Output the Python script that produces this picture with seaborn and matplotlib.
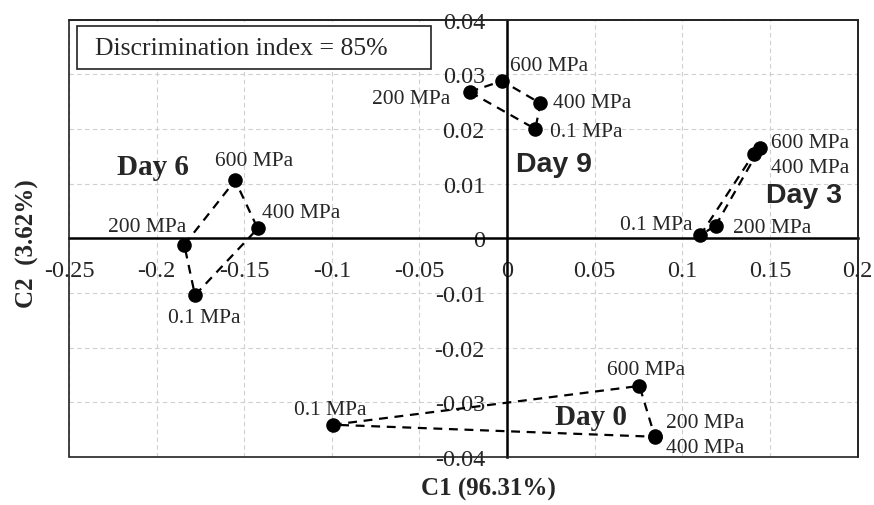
import pandas as pd
import matplotlib.pyplot as plt
import seaborn as sns
from matplotlib.patches import Rectangle

# PCA scores
pressures = ['0.1 MPa', '200 MPa', '400 MPa', '600 MPa']
day0_c1 = [-0.0995, 0.0842, 0.0845, 0.0755]
day0_c2 = [-0.0341, -0.0362, -0.0363, -0.0270]
day3_c1 = [0.1103, 0.1189, 0.1408, 0.1442]
day3_c2 = [0.0006, 0.0023, 0.0155, 0.0165]
day6_c1 = [-0.1781, -0.1842, -0.1423, -0.1552]
day6_c2 = [-0.0104, -0.0012, 0.0018, 0.0106]
day9_c1 = [0.0161, -0.0214, 0.0190, -0.0029]
day9_c2 = [0.0200, 0.0268, 0.0247, 0.0288]

x_ticks = [-0.25, -0.2, -0.15, -0.1, -0.05, 0, 0.05, 0.1, 0.15, 0.2]
x_tick_labels = ['-0.25', '-0.2', '-0.15', '-0.1', '-0.05', '0', '0.05', '0.1', '0.15', '0.2']
y_ticks = [-0.04, -0.03, -0.02, -0.01, 0, 0.01, 0.02, 0.03, 0.04]
y_tick_labels = ['-0.04', '-0.03', '-0.02', '-0.01', '0', '0.01', '0.02', '0.03', '0.04']

frames = []
for day, c1, c2 in [('Day 0', day0_c1, day0_c2), ('Day 3', day3_c1, day3_c2),
                    ('Day 6', day6_c1, day6_c2), ('Day 9', day9_c1, day9_c2)]:
    frames.append(pd.DataFrame({'day': day, 'pressure': pressures, 'c1': c1, 'c2': c2}))
scores = pd.concat(frames, ignore_index=True)

# closed outline around each day's points
outline = {
    'Day 0': ['0.1 MPa', '600 MPa', '200 MPa', '400 MPa', '0.1 MPa'],
    'Day 3': ['200 MPa', '600 MPa', '400 MPa', '0.1 MPa', '200 MPa'],
    'Day 6': ['200 MPa', '600 MPa', '400 MPa', '0.1 MPa', '200 MPa'],
    'Day 9': ['200 MPa', '600 MPa', '400 MPa', '0.1 MPa', '200 MPa'],
}
paths = []
for day, grp in scores.groupby('day'):
    paths.append(grp.set_index('pressure').loc[outline[day]].reset_index())
paths = pd.concat(paths, ignore_index=True)

sns.set_style('white')
plt.rcParams['font.family'] = ['Liberation Serif', 'DejaVu Serif']
plt.rcParams['axes.unicode_minus'] = False

fig = plt.figure(figsize=(8.74, 5.06), dpi=100)
ax = fig.add_axes([0.0789, 0.0949, 0.9024, 0.8642])

sns.lineplot(data=paths, x='c1', y='c2', units='day', estimator=None, sort=False,
             color='black', lw=1.6, linestyle=(0, (4, 3)), ax=ax, zorder=3)
sns.scatterplot(data=scores, x='c1', y='c2', color='black', s=110, edgecolor='black',
                linewidth=0, ax=ax, zorder=4)

ax.set_xlim(-0.25, 0.2)
ax.set_ylim(-0.04, 0.04)
ax.set_xticks(x_ticks)
ax.set_xticklabels(x_tick_labels)
ax.set_yticks(y_ticks)
ax.set_yticklabels(y_tick_labels)
ax.set_xlabel('')
ax.set_ylabel('')

ax.grid(True, color='#cfcfcf', linestyle=(0, (4, 3)), linewidth=0.8)
ax.set_axisbelow(True)

# axes through the origin, box around the plot
ax.spines['left'].set_position(('data', 0))
ax.spines['bottom'].set_position(('data', 0))
for s in ['left', 'bottom']:
    ax.spines[s].set_linewidth(1.8)
    ax.spines[s].set_color('black')
    ax.spines[s].set_zorder(2.5)
for s in ['top', 'right']:
    ax.spines[s].set_linewidth(1.2)
    ax.spines[s].set_color('#222222')
ax.add_patch(Rectangle((0, 0), 1, 1, transform=ax.transAxes, fill=False,
                       lw=1.2, edgecolor='#222222', clip_on=False, zorder=5))

ax.tick_params(axis='x', direction='out', length=6.5, width=1.2, pad=9,
               labelsize=17.5, color='black')
ax.tick_params(axis='y', direction='out', length=5, width=1.2, pad=11,
               labelsize=17.5, color='black')

# point labels: (dx, dy) in points, horizontal alignment
label_pos = {
    ('Day 9', '600 MPa'): (6, 8, 'left'),
    ('Day 9', '200 MPa'): (-13.7, -8, 'right'),
    ('Day 9', '400 MPa'): (9.4, -3, 'left'),
    ('Day 9', '0.1 MPa'): (10.8, -5, 'left'),
    ('Day 6', '600 MPa'): (13.3, 10.8, 'center'),
    ('Day 6', '400 MPa'): (3, 8, 'left'),
    ('Day 6', '200 MPa'): (1.4, 10, 'right'),
    ('Day 6', '0.1 MPa'): (6.5, -19.4, 'center'),
    ('Day 3', '600 MPa'): (8, 0.8, 'left'),
    ('Day 3', '400 MPa'): (12.2, -13.4, 'left'),
    ('Day 3', '200 MPa'): (12.7, -4.6, 'left'),
    ('Day 3', '0.1 MPa'): (-5.8, 4.4, 'right'),
    ('Day 0', '600 MPa'): (5, 8.7, 'center'),
    ('Day 0', '200 MPa'): (8, 6.9, 'left'),
    ('Day 0', '400 MPa'): (8, -10.8, 'left'),
    ('Day 0', '0.1 MPa'): (-2, 8, 'center'),
}
for _, row in scores.iterrows():
    dx, dy, ha = label_pos[(row['day'], row['pressure'])]
    ax.annotate(row['pressure'], (row['c1'], row['c2']), xytext=(dx, dy),
                textcoords='offset points', ha=ha, va='baseline', fontsize=15.5,
                zorder=6)

# group labels
ax.text(-0.2225, 0.0117, 'Day 6', fontsize=21, fontweight='bold', ha='left', va='baseline')
ax.text(0.0271, -0.034, 'Day 0', fontsize=21, fontweight='bold', ha='left', va='baseline')
ax.text(0.005, 0.0124, 'Day 9', fontsize=20.5, fontweight='bold', ha='left', va='baseline',
        family=['Liberation Sans', 'DejaVu Sans'])
ax.text(0.1479, 0.0066, 'Day 3', fontsize=20.5, fontweight='bold', ha='left', va='baseline',
        family=['Liberation Sans', 'DejaVu Sans'])

# discrimination index box
ax.add_patch(Rectangle((0.0105, 0.8873), 0.4481, 0.099, transform=ax.transAxes,
                       facecolor='white', edgecolor='#222222', lw=1.2, zorder=6))
ax.text(0.033, 0.935, 'Discrimination index = 85%', transform=ax.transAxes,
        fontsize=18.5, ha='left', va='center', zorder=7)

fig.text(488.7 / 874, 1 - 489 / 506, 'C1 (96.31%)', fontsize=18, fontweight='bold',
         ha='center', va='center')
fig.text(27 / 874, 1 - 243.5 / 506, 'C2  (3.62%)', fontsize=18, fontweight='bold',
         ha='center', va='center', rotation=90)

plt.savefig('out.png', dpi=100)
